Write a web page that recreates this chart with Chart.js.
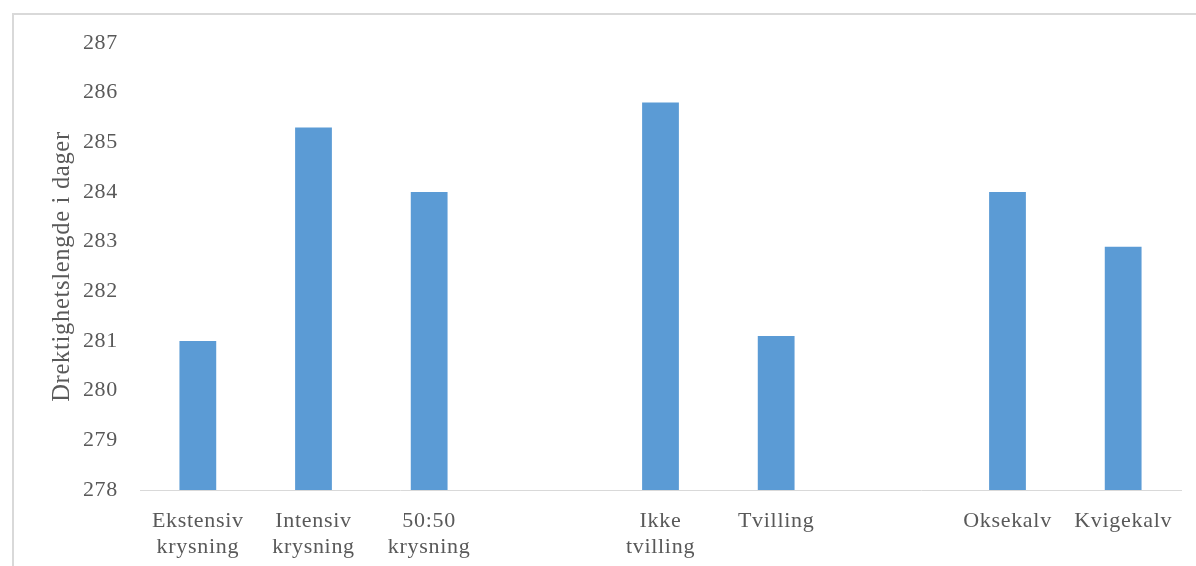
<!DOCTYPE html>
<html>
<head>
<meta charset="utf-8">
<script src="https://cdn.jsdelivr.net/npm/chart.js@4"></script>
<style>
  html, body { margin: 0; padding: 0; background: #fff; }
  #wrap { position: absolute; left: 0; top: 0; width: 1196px; height: 566px; }
  #frame {
    position: absolute; left: 12px; top: 13px; right: 0; bottom: 0;
    border-top: 2px solid #d9d9d9; border-left: 2px solid #d9d9d9;
    pointer-events: none;
  }
</style>
</head>
<body>
<div id="wrap"><canvas id="chart"></canvas></div>
<div id="frame"></div>
<script>
// ===== DATA =====
// empty categories leave the gaps between the three groups
const categories = [
  ['Ekstensiv', 'krysning'],
  ['Intensiv', 'krysning'],
  ['50:50', 'krysning'],
  '',
  ['Ikke', 'tvilling'],
  'Tvilling',
  '',
  'Oksekalv',
  'Kvigekalv'
];
const days = [281.0, 285.3, 284.0, null, 285.8, 281.1, null, 284.0, 282.9];
const yTicks = [278, 279, 280, 281, 282, 283, 284, 285, 286, 287];
const yTitle = 'Drektighetslengde i dager';

const textColor = '#595959';
const serif = "'Liberation Serif', 'Times New Roman', serif";

// the original text is set a little wider than the canvas default
const spacing = {
  id: 'spacing',
  beforeDraw(chart) { chart.ctx.letterSpacing = '0.7px'; }
};

new Chart(document.getElementById('chart'), {
  type: 'bar',
  data: {
    labels: categories,
    datasets: [{
      data: days,
      backgroundColor: '#5b9bd5',
      borderWidth: 0,
      categoryPercentage: 1,
      barPercentage: 0.318
    }]
  },
  plugins: [spacing],
  options: {
    responsive: true,
    maintainAspectRatio: false,
    animation: false,
    layout: { padding: { top: 43, right: 15, left: 0, bottom: 0 } },
    plugins: {
      legend: { display: false },
      tooltip: { enabled: false }
    },
    scales: {
      x: {
        grid: { display: false, drawTicks: false },
        border: { display: true, color: '#d9d9d9', width: 1 },
        ticks: {
          color: textColor,
          font: { family: serif, size: 22, lineHeight: 1.2 },
          padding: 18,
          maxRotation: 0,
          autoSkip: false
        },
        afterFit: function(scale) { scale.height = 76; }
      },
      y: {
        min: yTicks[0],
        max: yTicks[yTicks.length - 1],
        grid: { display: false, drawTicks: false },
        border: { display: false },
        afterBuildTicks: function(scale) {
          scale.ticks = yTicks.map(v => ({ value: v }));
        },
        ticks: {
          color: textColor,
          font: { family: serif, size: 22 },
          padding: 22
        },
        title: {
          display: true,
          text: yTitle,
          color: textColor,
          font: { family: serif, size: 24.5, lineHeight: 1.2 },
          padding: { top: 48, bottom: 0 }
        },
        afterFit: function(scale) { scale.width = 140; }
      }
    }
  }
});
</script>
</body>
</html>
